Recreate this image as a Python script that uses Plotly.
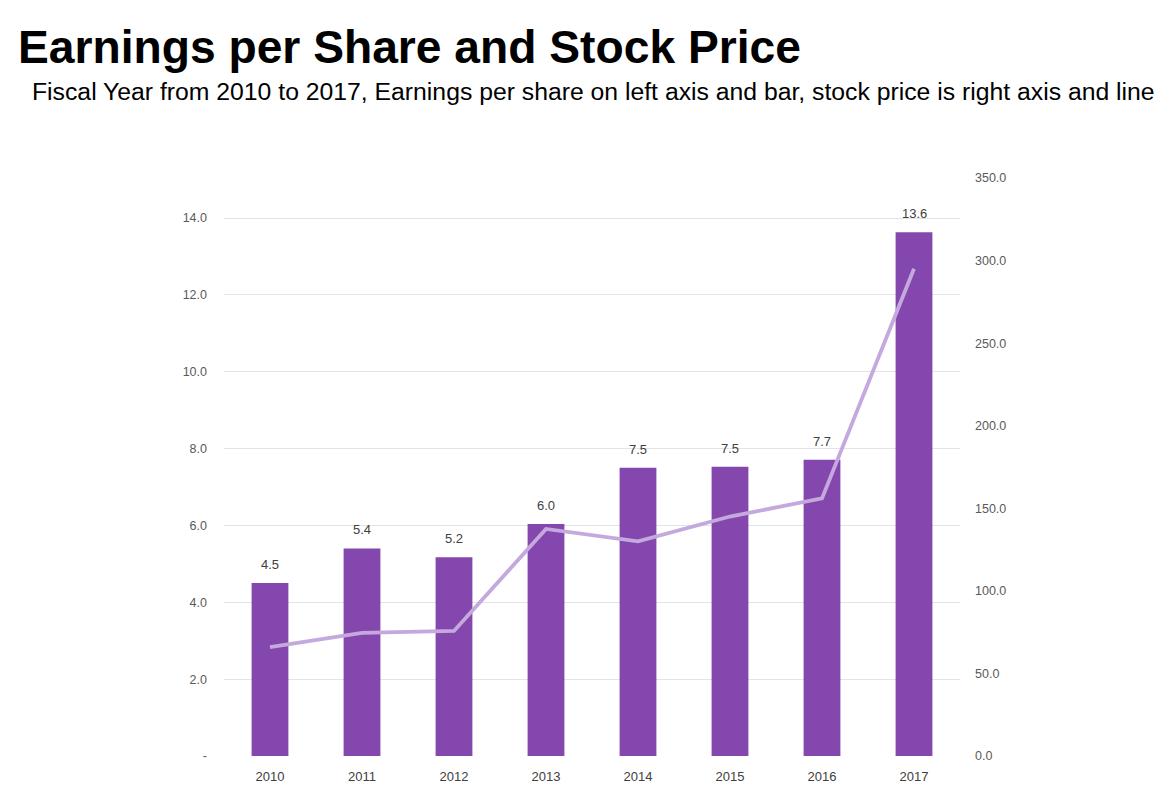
import plotly.graph_objects as go

years = ["2010", "2011", "2012", "2013", "2014", "2015", "2016", "2017"]
eps = [4.5, 5.4, 5.17, 6.04, 7.5, 7.53, 7.71, 13.63]
price = [66, 74.5, 75.7, 137.5, 130, 145, 156, 295]
left_ticks = [0, 2, 4, 6, 8, 10, 12, 14]
left_ticktext = ["-", "2.0", "4.0", "6.0", "8.0", "10.0", "12.0", "14.0"]
right_ticks = [0, 50, 100, 150, 200, 250, 300, 350]

BAR = "#8447AE"
LINE = "#C4A8DE"
FONT = "Liberation Sans, Arial, sans-serif"

# page offset (body margin) of the rendered html
OFF = 8
W, H = 1174, 797
plot_l, plot_r = 224, 960
plot_t, plot_b = 178, 756
pw = plot_r - plot_l
ph = plot_b - plot_t

fig = go.Figure()
fig.add_trace(go.Bar(x=years, y=eps, marker=dict(color=BAR, line=dict(width=0)),
                     name="EPS", yaxis="y"))
fig.add_trace(go.Scatter(x=years, y=price, mode="lines", line=dict(color=LINE, width=3.8),
                         name="Stock price", yaxis="y2"))

annotations = []
for i, v in enumerate(eps):
    annotations.append(dict(x=i, y=v, xref="x", yref="y", text=f"{v:.1f}",
                            showarrow=False, yanchor="bottom", yshift=9,
                            font=dict(family=FONT, size=13, color="#404040")))


def px_to_paper_x(px):
    return (px - plot_l) / pw


def px_to_paper_y(py):
    return (plot_b - py) / ph


annotations.append(dict(x=px_to_paper_x(30), y=px_to_paper_y(92), xref="paper", yref="paper",
                        text="Fiscal Year from 2010 to 2017, Earnings per share on left axis and bar, stock price is right axis and line",
                        showarrow=False, xanchor="left", yanchor="middle",
                        font=dict(family=FONT, size=24.75, color="#000000")))

left_top = 14 * ph / (plot_b - 218)

fig.update_layout(
    width=W, height=H,
    margin=dict(l=plot_l - OFF, r=W + OFF - plot_r, t=plot_t - OFF, b=H + OFF - plot_b),
    paper_bgcolor="white", plot_bgcolor="white",
    showlegend=False,
    bargap=0.6,
    title=dict(text="<b>Earnings per Share and Stock Price</b>", xref="container", yref="container",
               x=10 / W, xanchor="left", y=1 - 39 / H, yanchor="middle",
               font=dict(family=FONT, size=46.2, color="#000000")),
    xaxis=dict(type="category", range=[-0.5, len(years) - 0.5], showgrid=False, showline=False,
               zeroline=False, ticks="", ticklabelstandoff=11,
               tickfont=dict(family=FONT, size=13, color="#404040")),
    yaxis=dict(range=[0, left_top], tickvals=left_ticks, ticktext=left_ticktext,
               showgrid=True, gridcolor="#E3E3E3", gridwidth=1, zeroline=False, showline=False,
               ticks="", ticklabelstandoff=16,
               tickfont=dict(family=FONT, size=12.5, color="#595959")),
    yaxis2=dict(range=[0, 350], tickvals=right_ticks, ticktext=[f"{v:.1f}" for v in right_ticks],
                overlaying="y", side="right", showgrid=False, zeroline=False, showline=False,
                ticks="", ticklabelstandoff=14,
                tickfont=dict(family=FONT, size=12.5, color="#595959")),
    annotations=annotations,
)

fig.write_html("out.html")
